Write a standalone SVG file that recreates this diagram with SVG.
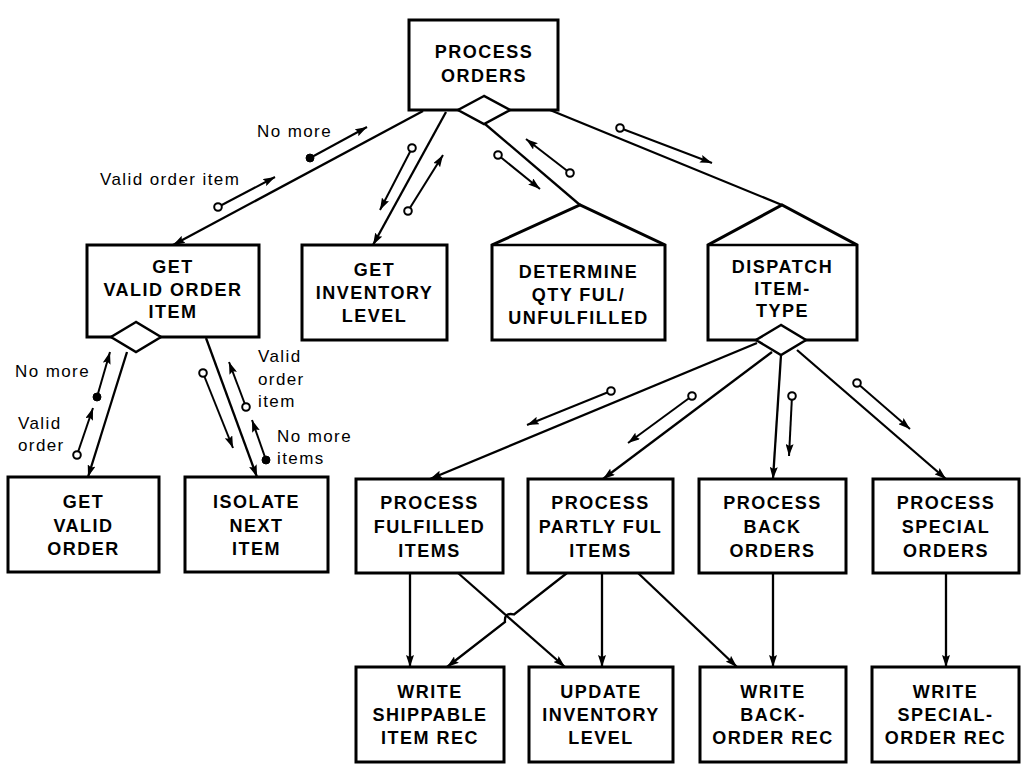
<svg xmlns="http://www.w3.org/2000/svg" width="1029" height="770" viewBox="0 0 1029 770">
  <defs>
    <marker id="arrow" markerUnits="userSpaceOnUse" markerWidth="13" markerHeight="8" refX="12" refY="4" orient="auto">
      <path d="M0,0 L12,4 L0,8 L2,4 Z" fill="#000"/>
    </marker>
    <style>
      .box { fill: #fff; stroke: #000; stroke-width: 3; stroke-linejoin: miter; }
      .dia { fill: #fff; stroke: #000; stroke-width: 2.5; }
      .edge { fill: none; stroke: #000; stroke-width: 2.3; }
      .arr { marker-end: url(#arrow); }
      .flow { fill: none; stroke: #000; stroke-width: 2; marker-end: url(#arrow); }
      .oc { fill: #fff; stroke: #000; stroke-width: 2; }
      .fc { fill: #000; stroke: #000; stroke-width: 1; }
      .t { font-family: "Liberation Sans", Arial, sans-serif; font-size: 18px; font-weight: bold; letter-spacing: 1.5px; text-anchor: middle; fill: #000; }
      .lbl { font-family: "Liberation Sans", Arial, sans-serif; font-size: 17px; letter-spacing: 1.4px; fill: #000; }
    </style>
  </defs>
  <rect width="1029" height="770" fill="#fff"/>

  <!-- connectors -->
  <g id="connectors">
    <!-- from PROCESS ORDERS -->
    <line class="edge arr" x1="423" y1="111" x2="173" y2="245"/>
    <line class="edge arr" x1="446" y1="112" x2="373" y2="245"/>
    <line class="edge" x1="485" y1="124" x2="580" y2="205"/>
    <line class="edge" x1="550" y1="110" x2="782" y2="205"/>
    <!-- from GET VALID ORDER ITEM -->
    <line class="edge arr" x1="127" y1="352" x2="88" y2="477"/>
    <line class="edge arr" x1="206" y1="338" x2="257" y2="477"/>
    <!-- from DISPATCH ITEM TYPE -->
    <line class="edge arr" x1="757" y1="343" x2="430" y2="479"/>
    <line class="edge arr" x1="772" y1="352" x2="603" y2="479"/>
    <line class="edge arr" x1="781" y1="355" x2="773" y2="479"/>
    <line class="edge arr" x1="797" y1="350" x2="946" y2="479"/>
    <!-- to the write / update modules -->
    <line class="edge arr" x1="410" y1="573" x2="410" y2="667"/>
    <line class="edge arr" x1="458" y1="573" x2="565" y2="667"/>
    <path class="edge arr" d="M567,573 L514,614.5 Q504,612 505,622 L447,667"/>
    <line class="edge arr" x1="602" y1="573" x2="602" y2="667"/>
    <line class="edge arr" x1="638" y1="573" x2="737" y2="667"/>
    <line class="edge arr" x1="773" y1="572" x2="773" y2="667"/>
    <line class="edge arr" x1="946" y1="573" x2="946" y2="667"/>

    <!-- data couples -->
    <line class="flow" x1="310" y1="158" x2="367" y2="127"/>
    <circle class="fc" cx="310" cy="158" r="4"/>
    <line class="flow" x1="218" y1="207" x2="275" y2="177"/>
    <circle class="oc" cx="218" cy="207" r="3.8"/>
    <line class="flow" x1="412" y1="148" x2="380" y2="210"/>
    <circle class="oc" cx="412" cy="148" r="3.8"/>
    <line class="flow" x1="408" y1="211" x2="443" y2="155"/>
    <circle class="oc" cx="408" cy="211" r="3.8"/>
    <line class="flow" x1="498" y1="155" x2="540" y2="189"/>
    <circle class="oc" cx="498" cy="155" r="3.8"/>
    <line class="flow" x1="570" y1="173" x2="526" y2="139"/>
    <circle class="oc" cx="570" cy="173" r="3.8"/>
    <line class="flow" x1="620" y1="128" x2="712" y2="163"/>
    <circle class="oc" cx="620" cy="128" r="3.8"/>
    <line class="flow" x1="97" y1="397" x2="110" y2="352"/>
    <circle class="fc" cx="97" cy="397" r="4"/>
    <line class="flow" x1="77" y1="455" x2="93" y2="408"/>
    <circle class="oc" cx="77" cy="455" r="3.8"/>
    <line class="flow" x1="203" y1="373" x2="233" y2="448"/>
    <circle class="oc" cx="203" cy="373" r="3.8"/>
    <line class="flow" x1="246" y1="407" x2="229" y2="362"/>
    <circle class="oc" cx="246" cy="407" r="3.8"/>
    <line class="flow" x1="266" y1="460" x2="252" y2="420"/>
    <circle class="fc" cx="266" cy="460" r="4"/>
    <line class="flow" x1="611" y1="391" x2="527" y2="425"/>
    <circle class="oc" cx="611" cy="391" r="3.8"/>
    <line class="flow" x1="692" y1="396" x2="628" y2="443"/>
    <circle class="oc" cx="692" cy="396" r="3.8"/>
    <line class="flow" x1="792" y1="396" x2="789" y2="456"/>
    <circle class="oc" cx="792" cy="396" r="3.8"/>
    <line class="flow" x1="857" y1="383" x2="910" y2="429"/>
    <circle class="oc" cx="857" cy="383" r="3.8"/>

    <!-- couple labels -->
    <text class="lbl" x="257" y="137">No more</text>
    <text class="lbl" x="100" y="185">Valid order item</text>
    <text class="lbl" x="15" y="377">No more</text>
    <text class="lbl" x="18" y="429">Valid</text>
    <text class="lbl" x="18" y="451">order</text>
    <text class="lbl" x="258" y="362">Valid</text>
    <text class="lbl" x="258" y="385">order</text>
    <text class="lbl" x="258" y="407">item</text>
    <text class="lbl" x="277" y="442">No more</text>
    <text class="lbl" x="277" y="464">items</text>
  </g>

  <!-- level 0 -->
  <g id="process-orders">
    <rect class="box" x="409" y="20" width="149" height="90"/>
    <polygon class="dia" points="484,96 458,110 484,124 510,110"/>
    <text class="t" x="484" y="58">PROCESS</text>
    <text class="t" x="484" y="82">ORDERS</text>
  </g>

  <!-- level 1 -->
  <g id="get-valid-order-item">
    <rect class="box" x="87" y="245" width="172" height="92"/>
    <polygon class="dia" points="136,322 111,337 136,352 161,337"/>
    <text class="t" x="173" y="273">GET</text>
    <text class="t" x="173" y="296">VALID ORDER</text>
    <text class="t" x="173" y="318">ITEM</text>
  </g>
  <g id="get-inventory-level">
    <rect class="box" x="302" y="245" width="145" height="95"/>
    <text class="t" x="374.5" y="276">GET</text>
    <text class="t" x="374.5" y="299">INVENTORY</text>
    <text class="t" x="374.5" y="322">LEVEL</text>
  </g>
  <g id="determine-qty">
    <path class="box" d="M492,340 L492,245 L580,205 L665,245 L665,340 Z"/>
    <line class="edge" x1="492" y1="245" x2="665" y2="245" stroke-width="3"/>
    <text class="t" x="578.5" y="278">DETERMINE</text>
    <text class="t" x="578.5" y="301">QTY FUL/</text>
    <text class="t" x="578.5" y="324">UNFULFILLED</text>
  </g>
  <g id="dispatch-item-type">
    <path class="box" d="M708,340 L708,245 L782,205 L857,245 L857,340 Z"/>
    <line class="edge" x1="708" y1="245" x2="857" y2="245" stroke-width="3"/>
    <polygon class="dia" points="781,325 756,340 781,355 806,340"/>
    <text class="t" x="782.5" y="273">DISPATCH</text>
    <text class="t" x="782.5" y="295">ITEM-</text>
    <text class="t" x="782.5" y="317">TYPE</text>
  </g>

  <!-- level 2 -->
  <g id="get-valid-order">
    <rect class="box" x="8" y="477" width="151" height="95"/>
    <text class="t" x="83.5" y="508">GET</text>
    <text class="t" x="83.5" y="532">VALID</text>
    <text class="t" x="83.5" y="555">ORDER</text>
  </g>
  <g id="isolate-next-item">
    <rect class="box" x="185" y="477" width="143" height="95"/>
    <text class="t" x="256.5" y="508">ISOLATE</text>
    <text class="t" x="256.5" y="532">NEXT</text>
    <text class="t" x="256.5" y="555">ITEM</text>
  </g>
  <g id="process-fulfilled-items">
    <rect class="box" x="356" y="479" width="147" height="94"/>
    <text class="t" x="429.5" y="509">PROCESS</text>
    <text class="t" x="429.5" y="533">FULFILLED</text>
    <text class="t" x="429.5" y="557">ITEMS</text>
  </g>
  <g id="process-partly-ful-items">
    <rect class="box" x="528" y="479" width="145" height="94"/>
    <text class="t" x="600.5" y="509">PROCESS</text>
    <text class="t" x="600.5" y="533">PARTLY FUL</text>
    <text class="t" x="600.5" y="557">ITEMS</text>
  </g>
  <g id="process-back-orders">
    <rect class="box" x="699" y="479" width="147" height="94"/>
    <text class="t" x="772.5" y="509">PROCESS</text>
    <text class="t" x="772.5" y="533">BACK</text>
    <text class="t" x="772.5" y="557">ORDERS</text>
  </g>
  <g id="process-special-orders">
    <rect class="box" x="873" y="479" width="146" height="94"/>
    <text class="t" x="946" y="509">PROCESS</text>
    <text class="t" x="946" y="533">SPECIAL</text>
    <text class="t" x="946" y="557">ORDERS</text>
  </g>

  <!-- level 3 -->
  <g id="write-shippable-item-rec">
    <rect class="box" x="356" y="667" width="148" height="95"/>
    <text class="t" x="430" y="698">WRITE</text>
    <text class="t" x="430" y="721">SHIPPABLE</text>
    <text class="t" x="430" y="744">ITEM REC</text>
  </g>
  <g id="update-inventory-level">
    <rect class="box" x="529" y="667" width="144" height="95"/>
    <text class="t" x="601" y="698">UPDATE</text>
    <text class="t" x="601" y="721">INVENTORY</text>
    <text class="t" x="601" y="744">LEVEL</text>
  </g>
  <g id="write-back-order-rec">
    <rect class="box" x="700" y="667" width="146" height="95"/>
    <text class="t" x="773" y="698">WRITE</text>
    <text class="t" x="773" y="721">BACK-</text>
    <text class="t" x="773" y="744">ORDER REC</text>
  </g>
  <g id="write-special-order-rec">
    <rect class="box" x="872" y="667" width="147" height="95"/>
    <text class="t" x="945.5" y="698">WRITE</text>
    <text class="t" x="945.5" y="721">SPECIAL-</text>
    <text class="t" x="945.5" y="744">ORDER REC</text>
  </g>
</svg>
